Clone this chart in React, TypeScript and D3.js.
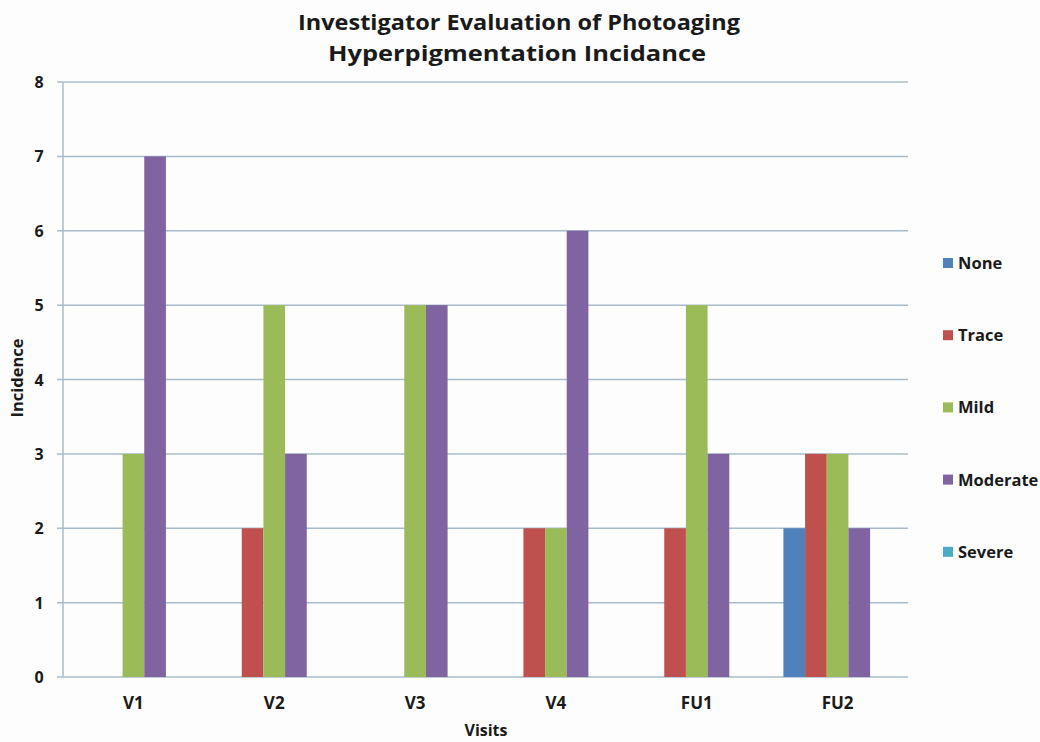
import React from "react";
import * as d3 from "d3";

const categories = ["V1", "V2", "V3", "V4", "FU1", "FU2"];
const seriesNames = ["None", "Trace", "Mild", "Moderate", "Severe"];
const noneValues = [0, 0, 0, 0, 0, 2];
const traceValues = [0, 2, 0, 2, 2, 3];
const mildValues = [3, 5, 5, 2, 5, 3];
const moderateValues = [7, 3, 5, 6, 3, 2];
const severeValues = [0, 0, 0, 0, 0, 0];
const yTicks = [0, 1, 2, 3, 4, 5, 6, 7, 8];
const seriesColors = ["#4F81BD", "#C0504D", "#9BBB59", "#8064A2", "#4BACC6"];
const titleLines = ["Investigator Evaluation of Photoaging", "Hyperpigmentation Incidance"];

const allValues = [noneValues, traceValues, mildValues, moderateValues, severeValues];

export default function App() {
  const W = 1040, H = 742;
  const left = 63, right = 908, top = 82, bottom = 677;
  const font = "'Open Sans', 'DejaVu Sans', sans-serif";
  const textColor = "#1a1a1a";
  const gridColor = "#a9bccb";

  const x = d3.scaleBand<string>().domain(categories).range([left, right]).paddingInner(0).paddingOuter(0);
  const y = d3.scaleLinear().domain([0, 8]).range([bottom, top]);
  const bw = x.bandwidth();
  const barW = bw / (seriesNames.length + 1.5);
  const xs = d3.scaleBand<string>().domain(seriesNames).range([0, barW * seriesNames.length]);

  return (
    <svg width={W} height={H} style={{ position: "fixed", left: 0, top: 0, background: "#fdfdfd" }}>
      <rect x={0} y={0} width={W} height={H} fill="#fdfdfd" />
      <text x={519} y={30} textAnchor="middle" fontFamily={font} fontWeight="bold" fontSize={22} fill={textColor} textLength={442} lengthAdjust="spacingAndGlyphs">
        {titleLines[0]}
      </text>
      <text x={517} y={60.5} textAnchor="middle" fontFamily={font} fontWeight="bold" fontSize={22} fill={textColor} textLength={378} lengthAdjust="spacingAndGlyphs">
        {titleLines[1]}
      </text>
      {yTicks.map((t) => (
        <g key={t}>
          <line x1={left - 6} x2={right} y1={y(t)} y2={y(t)} stroke={gridColor} strokeWidth={1.5} />
          <text x={39} y={y(t) + 6} textAnchor="middle" fontFamily={font} fontWeight="bold" fontSize={16} fill={textColor}>
            {t}
          </text>
        </g>
      ))}
      <line x1={left} x2={left} y1={top} y2={bottom} stroke={gridColor} strokeWidth={1.5} />
      {categories.map((c, i) => {
        const groupStart = (x(c) as number) + (bw - barW * seriesNames.length) / 2;
        return (
          <g key={c}>
            {seriesNames.map((s, j) => {
              const v = allValues[j][i];
              if (v <= 0) return null;
              return (
                <rect key={s} x={groupStart + (xs(s) as number)} y={y(v)} width={barW} height={y(0) - y(v)} fill={seriesColors[j]} />
              );
            })}
            <text x={(x(c) as number) + bw / 2} y={709} textAnchor="middle" fontFamily={font} fontWeight="bold" fontSize={17} fill={textColor}>
              {c}
            </text>
          </g>
        );
      })}
      <text x={486} y={736} textAnchor="middle" fontFamily={font} fontWeight="bold" fontSize={16} fill={textColor}>
        Visits
      </text>
      <text transform="translate(23,378) rotate(-90)" textAnchor="middle" fontFamily={font} fontWeight="bold" fontSize={16.5} fill={textColor}>
        Incidence
      </text>
      {seriesNames.map((s, j) => {
        const ly = 263 + j * 72.2;
        return (
          <g key={s}>
            <rect x={943} y={ly - 5} width={10} height={10} fill={seriesColors[j]} />
            <text x={958} y={ly + 6} fontFamily={font} fontWeight="bold" fontSize={16.5} fill={textColor}>
              {s}
            </text>
          </g>
        );
      })}
    </svg>
  );
}
